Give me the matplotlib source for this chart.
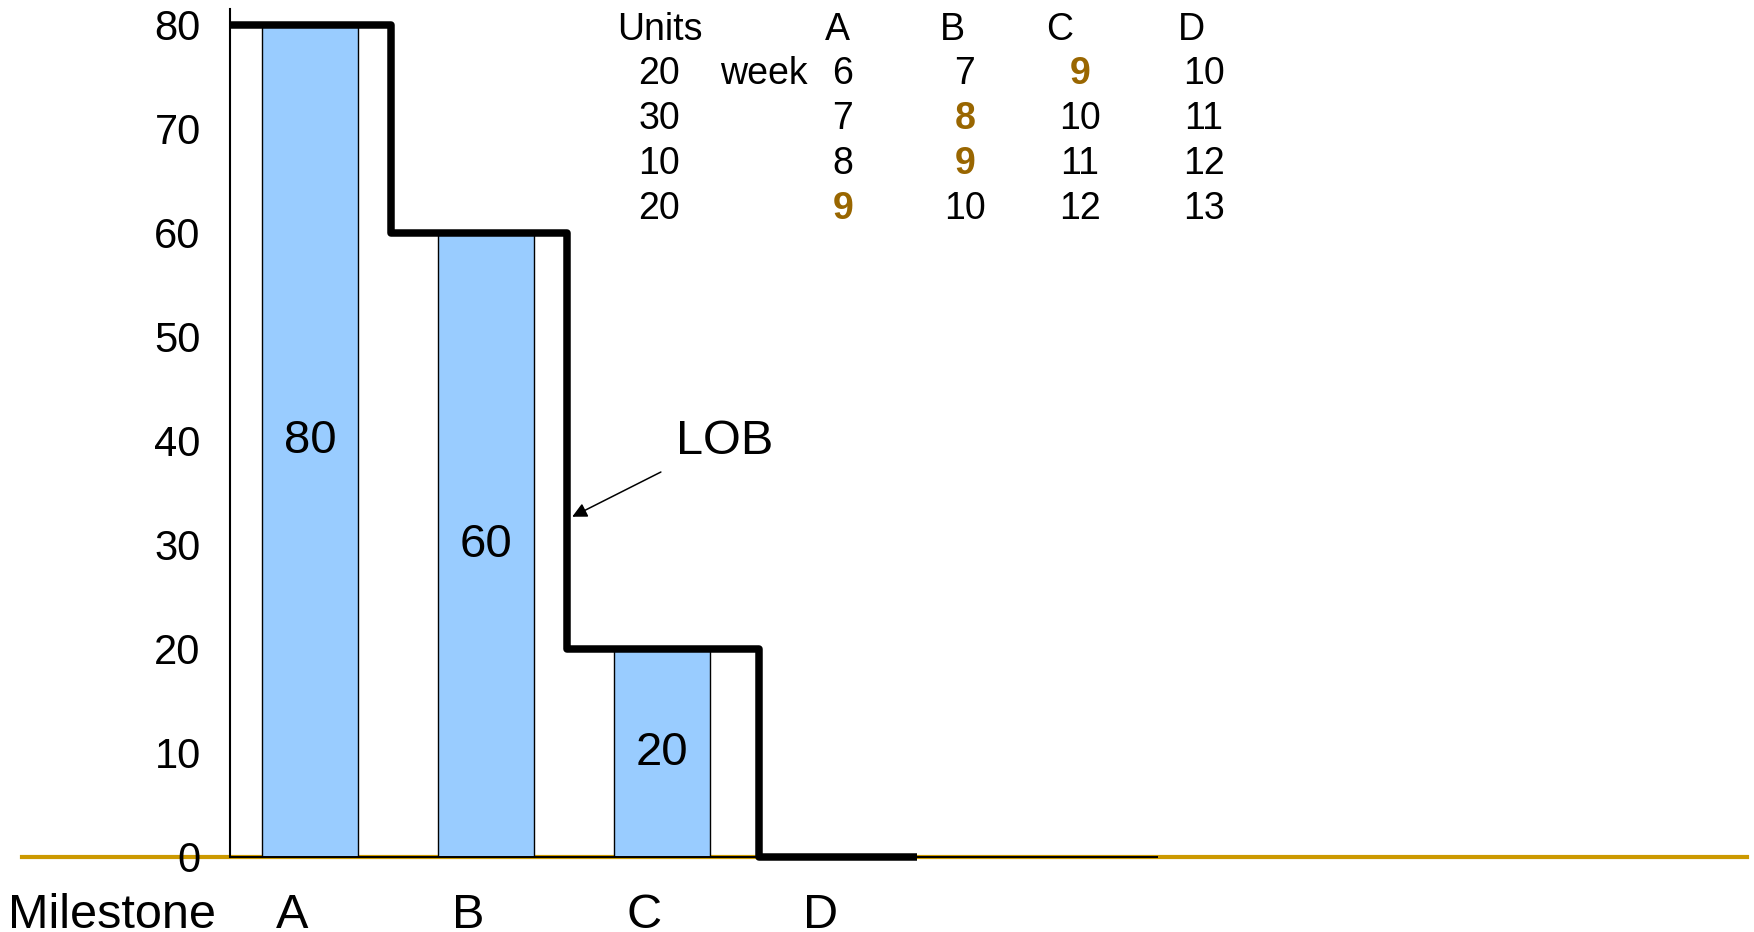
import matplotlib
matplotlib.use("Agg")
import matplotlib.pyplot as plt

plt.rcParams['font.family'] = ['Liberation Sans', 'DejaVu Sans']

# Milestones and completed units at each milestone
milestones = ['A', 'B', 'C', 'D']
completed = [80, 60, 20]

# Line of balance: step edges (milestone units) and required cumulative units
lob_edges = [-0.455, 0.46, 1.46, 2.55, 3.45]
lob_units = [80, 60, 20, 0]

# Delivery schedule table
units = [20, 30, 10, 20]
weeks = [
    [6, 7, 9, 10],
    [7, 8, 10, 11],
    [8, 9, 11, 12],
    [9, 10, 12, 13],
]
highlight = [(0, 2), (1, 1), (2, 1), (3, 0)]
y_ticks = [0, 10, 20, 30, 40, 50, 60, 70, 80]

W, H = 1754, 932
fig = plt.figure(figsize=(W / 100, H / 100), dpi=100)
ax = fig.add_axes([22 / W, (H - 857) / H, (1747 - 22) / W, (857 - 9) / H])
ax.set_xlim(-1.636, 8.165)
ax.set_ylim(0, 81.5)

BLUE = '#99CCFF'
GOLD_LINE = '#CC9900'
GOLD_TEXT = '#996600'

# Bars
xs = list(range(len(completed)))
ax.bar(xs, completed, width=0.545, color=BLUE, edgecolor='black', linewidth=1.0, zorder=2)
for x, v in zip(xs, completed):
    ax.text(x, v / 2, str(v), ha='center', va='center', fontsize=34, zorder=4)

# Thin baseline under the bars
ax.plot([lob_edges[0], 4.82], [0, 0], color='black', lw=1.4, zorder=3,
        solid_capstyle='butt', clip_on=False)

# Line of balance
step_x, step_y = [], []
for i, u in enumerate(lob_units):
    step_x += [lob_edges[i], lob_edges[i + 1]]
    step_y += [u, u]
ax.plot(step_x, step_y, color='black', lw=5.4, zorder=5, clip_on=False,
        solid_joinstyle='round', solid_capstyle='butt')

# LOB annotation
ax.text(2.358, 39.9, 'LOB', ha='center', va='center', fontsize=35)
ax.annotate('', xy=(1.49, 32.7), xytext=(1.994, 37.0),
            arrowprops=dict(arrowstyle='-|>', color='black', lw=1.1,
                            mutation_scale=22, shrinkA=0, shrinkB=0))

# Axes styling
for s in ['top', 'right']:
    ax.spines[s].set_visible(False)
ax.spines['bottom'].set_color(GOLD_LINE)
ax.spines['bottom'].set_linewidth(3.0)
ax.spines['bottom'].set_zorder(1)
ax.spines['left'].set_position(('data', lob_edges[0]))
ax.spines['left'].set_linewidth(1.5)

ax.set_yticks(y_ticks)
ax.set_yticklabels([str(t) for t in y_ticks], fontsize=30)
ax.tick_params(axis='y', length=0, pad=21)
for lbl in ax.get_yticklabels():
    lbl.set_va('center_baseline')

tick_pos = [-1.125] + [i - 0.1 for i in range(len(milestones))]
ax.set_xticks(tick_pos)
ax.set_xticklabels(['Milestone'] + milestones, fontsize=35)
ax.tick_params(axis='x', length=0, pad=26)


def fig_text(px, py, s, **kw):
    fig.text(px / W, 1 - py / H, s, ha='center', va='center', **kw)


# Table
header_x = [660, 837, 952, 1060, 1191]
col_x = [843, 965, 1080, 1204]
row_y = [74, 119, 164, 209]
TFS = 27
for hx, label in zip(header_x, ['Units'] + milestones):
    fig_text(hx, 30, label, fontsize=TFS)
fig_text(764, row_y[0], 'week', fontsize=TFS)
for r, (u, row) in enumerate(zip(units, weeks)):
    fig_text(659, row_y[r], str(u), fontsize=TFS)
    for c, w in enumerate(row):
        if (r, c) in highlight:
            fig_text(col_x[c], row_y[r], str(w), fontsize=TFS,
                     fontweight='bold', color=GOLD_TEXT)
        else:
            fig_text(col_x[c], row_y[r], str(w), fontsize=TFS)

fig.savefig('out.png', dpi=100)
